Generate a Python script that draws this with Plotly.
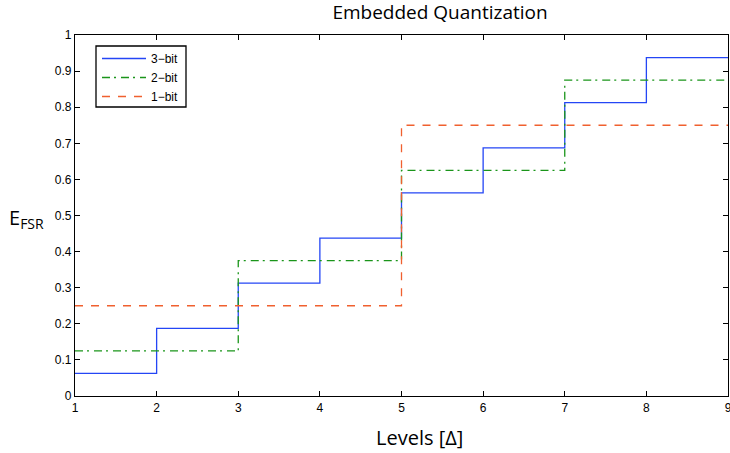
import plotly.graph_objects as go

levels_3bit = [1, 2, 3, 4, 5, 6, 7, 8, 9]
values_3bit = [0.0625, 0.1875, 0.3125, 0.4375, 0.5625, 0.6875, 0.8125, 0.9375, 0.9375]
levels_2bit = [1, 3, 5, 7, 9]
values_2bit = [0.125, 0.375, 0.625, 0.875, 0.875]
levels_1bit = [1, 5, 9]
values_1bit = [0.25, 0.75, 0.75]

x_ticks = [1, 2, 3, 4, 5, 6, 7, 8, 9]
y_ticks = [0, 0.1, 0.2, 0.3, 0.4, 0.5, 0.6, 0.7, 0.8, 0.9, 1]
y_tick_text = ["0", "0.1", "0.2", "0.3", "0.4", "0.5", "0.6", "0.7", "0.8", "0.9", "1"]

W, H = 730, 453
L, R, T, B = 75, 2, 35, 57
PW, PH = W - L - R, H - T - B


def px(x):
    return (x - L) / PW


def py(y):
    return (H - B - y) / PH


fig = go.Figure()
fig.add_trace(go.Scatter(x=levels_3bit, y=values_3bit, mode="lines", line_shape="hv",
                         name="3\u2212bit", line=dict(color="#2446f5", width=1.3)))
fig.add_trace(go.Scatter(x=levels_2bit, y=values_2bit, mode="lines", line_shape="hv",
                         name="2\u2212bit", line=dict(color="#1a951a", width=1.3, dash="8px,4px,2px,5px")))
fig.add_trace(go.Scatter(x=levels_1bit, y=values_1bit, mode="lines", line_shape="hv",
                         name="1\u2212bit", line=dict(color="#f0602f", width=1.3, dash="8px,8px")))

axis_common = dict(showgrid=False, zeroline=False, showline=True, linecolor="black", linewidth=1.3,
                   mirror="ticks", ticks="inside", ticklen=5, tickcolor="black", tickwidth=1,
                   ticklabeloverflow="allow", automargin=False,
                   tickfont=dict(family="Liberation Sans, Arial", size=12, color="black"))

fig.update_layout(
    width=W, height=H,
    margin=dict(l=L, r=R, t=T, b=B, autoexpand=False),
    paper_bgcolor="white", plot_bgcolor="white",
    title=dict(text="Embedded Quantization", x=440 / W, xanchor="center", y=1 - 12 / H, yanchor="middle",
               font=dict(family="Open Sans, DejaVu Sans", size=19, color="black")),
    xaxis=dict(range=[1, 9], tickvals=x_ticks, ticktext=[str(v) for v in x_ticks], **axis_common),
    yaxis=dict(range=[0, 1], tickvals=y_ticks, ticktext=y_tick_text, **axis_common),
    legend=dict(x=px(97), y=py(44), xanchor="left", yanchor="top",
                bgcolor="rgba(0,0,0,0)", borderwidth=0,
                font=dict(family="Liberation Sans, Arial", size=12, color="black"),
                tracegroupgap=0, itemwidth=44),
    showlegend=True,
)

fig.add_shape(type="rect", xref="paper", yref="paper", x0=px(96), x1=px(186), y0=py(107), y1=py(46),
              line=dict(color="black", width=1.3), fillcolor="white", layer="above")

fig.add_annotation(text="Levels [\u0394]", xref="paper", yref="paper",
                   x=px(419), y=py(437),
                   xanchor="center", yanchor="middle", showarrow=False,
                   font=dict(family="Open Sans, DejaVu Sans", size=20, color="black"))

fig.add_annotation(text="E<sub>FSR</sub>", xref="paper", yref="paper",
                   x=px(7), y=py(218),
                   xanchor="left", yanchor="middle", showarrow=False,
                   font=dict(family="Open Sans, DejaVu Sans", size=20, color="black"))

fig.write_html("out.html", config={"displayModeBar": False},
               post_script="document.body.style.margin='0';document.body.style.overflow='hidden';")
